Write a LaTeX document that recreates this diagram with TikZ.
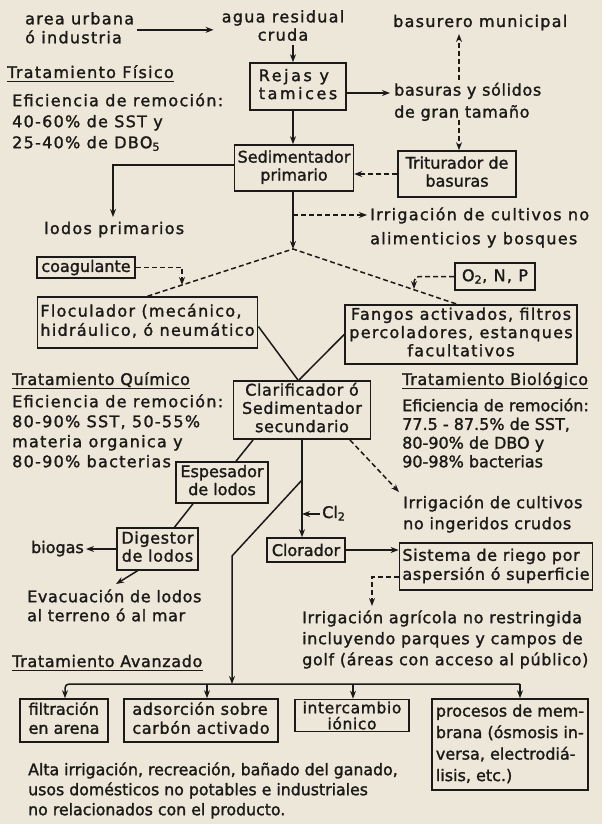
\documentclass[tikz,border=0pt]{standalone}
\usepackage{fontspec}
\setmainfont{DejaVu Sans}
\newfontfamily\fw[LetterSpace=8,FakeBold=1.5]{DejaVu Sans}
\newfontfamily\fm[LetterSpace=4,FakeBold=1.5]{DejaVu Sans}
\newfontfamily\fn[FakeBold=1.5]{DejaVu Sans}
\newfontfamily\fx[LetterSpace=16,FakeBold=1.5]{DejaVu Sans}
\newfontfamily\fc[FakeStretch=0.985,FakeBold=1.5]{DejaVu Sans}
\usetikzlibrary{arrows.meta}
\definecolor{paper}{RGB}{236,231,216}
\definecolor{ink}{RGB}{28,26,24}
\newcommand\szA{\fontsize{16}{20}\selectfont}
\newcommand\szB{\fontsize{16}{18}\selectfont}
\tikzset{
  every node/.style={inner sep=0pt, text=ink},
  txt/.style={anchor=north west, align=left},
  box/.style={draw=ink, line width=1.6pt, inner xsep=3pt, inner ysep=2pt},
  ln/.style={draw=ink, line width=1.5pt},
  arr/.style={ln, -{Stealth[length=8pt,width=6pt]}},
  dsh/.style={dash pattern=on 5pt off 3pt},
  uline/.style={draw=ink, line width=1.3pt}
}
\begin{document}
\begin{tikzpicture}[x=1pt,y=-1pt]
\fill[paper] (0,0) rectangle (602,824);
\useasboundingbox (0,0) rectangle (602,824);

% ---------- top ----------
\node[txt, font=\fw\fontsize{16}{17}\selectfont] (area) at (25,12) {\strut area urbana\\ó industria};
\node[anchor=north, align=center, font=\fw\fontsize{16}{17}\selectfont] (agua) at (283,10) {\strut agua residual\\cruda};
\draw[arr] ([xshift=3pt,yshift=-2pt]area.east) -- ([xshift=-8pt,yshift=-2pt]area.east -| agua.west);

\node[box, minimum width=96pt, minimum height=47pt, align=left, font=\fx\szB] (rejas) at (298,86.5) {\strut Rejas y\\\strut tamices};
\coordinate (c0) at (293,45);
\draw[arr] (c0) -- (c0 |- rejas.north);

\node[box, minimum width=116pt, minimum height=46pt, align=center, font=\fn\szB] (sed1) at (294,168) {\strut Sedimentador\\\strut primario};
\node[box, minimum width=118pt, minimum height=46pt, align=center, font=\fn\szB] (trit) at (457,174) {\strut Triturador de\\\strut basuras};

\node[txt, font=\fm\fontsize{16}{22}\selectfont] (bas) at (394,80) {\strut basuras y sólidos\\de gran tamaño};
\node[anchor=west, font=\fw\szA] (bmun) at (393,23) {\strut basurero municipal};

\coordinate (basin) at (390,93);
\draw[arr] (rejas.east |- basin) -- (basin);
\coordinate (bup) at (459,80);
\coordinate (btop) at (459,34);
\draw[arr,dsh] (bup) -- (btop);
\coordinate (bdn) at (459,120);
\draw[arr,dsh] (bdn) -- (bdn |- trit.north);
\draw[arr,dsh] (trit.west) -- (trit.west -| sed1.east);
\draw[arr] (rejas.south -| c0) -- (sed1.north -| c0);

% ---------- fisico ----------
\node[anchor=west, font=\fw\szA] (hF) at (7,74) {\strut Tratamiento Físico};
\draw[uline] ([yshift=2.5pt]hF.south west) -- ([yshift=2.5pt]hF.south east);
\node[txt, font=\fw\fontsize{16}{21}\selectfont] (effF) at (12,91.3) {\strut Eficiencia de remoción:\\40-60\% de SST y\\25-40\% de DBO\textsubscript{5}};

\coordinate (lp) at (113,217);
\draw[arr] ([yshift=3pt]sed1.west) -| (lp);
\node[anchor=west, font=\fw\szA] (lodos) at (44,230) {\strut lodos primarios};

\coordinate (J) at (293,249);
\draw[arr] (sed1.south -| J) -- (J);
\coordinate (Ja) at (293,215);
\coordinate (Jb) at (367,215);
\draw[arr,dsh] (Ja) -- (Jb);
\node[txt, font=\fw\fontsize{16}{24}\selectfont] (irr1) at (370,203.2) {\strut Irrigación de cultivos no\\alimenticios y bosques};

% ---------- floculador / fangos ----------
\node[box, minimum width=211pt, minimum height=51pt, align=left, font=\fw\szB] (floc) at (147.5,322.5) {\strut Floculador (mecánico,\\\strut hidráulico, ó neumático};
\node[box, minimum width=232pt, minimum height=59pt, align=center, font=\fw\fontsize{16}{17}\selectfont] (fang) at (461,334.5) {\strut Fangos activados, filtros\\\strut percoladores, estanques\\\strut facultativos};
\node[box, minimum width=98pt, minimum height=21pt, inner ysep=0pt, font=\fn\szB] (coag) at (86,267.5) {coagulante};
\node[box, minimum width=80pt, minimum height=27pt, inner ysep=0pt, font=\fw\szB] (otwo) at (495,276.5) {O\textsubscript{2}, N, P};

\draw[ln,dsh] (floc.north) -- (J) -- ([xshift=-4pt]fang.north);
\coordinate (cg) at (182,285);
\draw[arr,dsh] (coag.east) -| (cg);
\coordinate (og) at (414,289);
\draw[arr,dsh,rounded corners=5pt] (otwo.west) -| (og);

% ---------- clarificador ----------
\node[box, minimum width=137pt, minimum height=56pt, align=center, font=\fm\fontsize{16}{17}\selectfont] (clar) at (302,410) {\strut Clarificador ó\\\strut Sedimentador\\\strut secundario};
\draw[ln] ([yshift=-4pt]floc.east) -- ([xshift=-4pt]clar.north);
\draw[ln] (fang.west) -- ([xshift=-3pt]clar.north);

\node[anchor=west, font=\fm\szA] (hQ) at (12,381) {\strut Tratamiento Químico};
\draw[uline] ([yshift=2.5pt]hQ.south west) -- ([yshift=2.5pt]hQ.south east);
\node[txt, font=\fw\szA] (effQ) at (12,393) {\strut Eficiencia de remoción:\\80-90\% SST, 50-55\%\\materia organica y\\80-90\% bacterias};

\node[anchor=west, font=\fm\szA] (hB) at (402,381) {\strut Tratamiento Biológico};
\draw[uline] ([yshift=2.5pt]hB.south west) -- ([yshift=2.5pt]hB.south east);
\node[txt, font=\fn\fontsize{16}{18.7}\selectfont] (effB) at (402,397.9) {\strut Eficiencia de remoción:\\77.5 - 87.5\% de SST,\\80-90\% de DBO y\\90-98\% bacterias};

% ---------- lodos ----------
\node[box, minimum width=92pt, minimum height=41pt, align=center, font=\fn\szB] (esp) at (222,482.5) {\strut Espesador\\\strut de lodos};
\node[box, minimum width=81pt, minimum height=42pt, align=center, font=\fm\szB] (dig) at (157.5,549) {\strut Digestor\\\strut de lodos};
\draw[ln] ([xshift=-49pt]clar.south) -- ([xshift=14pt]esp.north);
\draw[ln] ([xshift=-29pt]esp.south) -- ([xshift=17pt]dig.north);

\node[anchor=east, inner xsep=2pt, font=\fn\szA] (bio) at (86,549) {\strut biogas};
\draw[arr] (dig.west) -- (bio.east);
\coordinate (ev) at (116,584);
\draw[arr] ([xshift=-20pt]dig.south) -- (ev);
\node[txt, font=\fm\fontsize{16}{19}\selectfont] (evac) at (27,588.7) {\strut Evacuación de lodos\\al terreno ó al mar};

\node[anchor=west, font=\fm\szA] (hA) at (12,663) {\strut Tratamiento Avanzado};
\draw[uline] ([yshift=2.5pt]hA.south west) -- ([yshift=2.5pt]hA.south east);

% ---------- cloracion ----------
\node[box, minimum width=78pt, minimum height=24pt, inner ysep=0pt, font=\fn\szB] (clor) at (306,550) {Clorador};
\draw[arr] (clar.south) -- (clar.south |- clor.north);
\node[anchor=west, inner xsep=2pt, font=\fn\szA] (cl) at (320,514) {\strut Cl\textsubscript{2}};
\draw[arr] (cl.west) -- (cl.west -| clar.south);

\coordinate (d1) at (302,480);
\coordinate (d2) at (232,556);
\coordinate (bus) at (232,684);
\draw[arr] (d1) -- (d2) -- (bus);

\coordinate (ir2) at (399,492);
\draw[arr,dsh] ([xshift=48pt]clar.south) -- (ir2);
\node[txt, font=\fm\fontsize{16}{21}\selectfont] (irr2) at (403,493.3) {\strut Irrigación de cultivos\\no ingeridos crudos};

\node[box, minimum width=186pt, minimum height=47pt, align=left, font=\fm\fontsize{16}{19}\selectfont] (sist) at (496,566.5) {\strut Sistema de riego por\\\strut aspersión ó superficie};
\draw[arr] (clor.east) -- (clor.east -| sist.west);
\coordinate (ia) at (372,606);
\draw[arr,dsh] ([yshift=-10.5pt]sist.west) -| (ia);
\node[txt, font=\fm\fontsize{16}{21}\selectfont] (irr3) at (302,608.3) {\strut Irrigación agrícola no restringida\\incluyendo parques y campos de\\golf (áreas con acceso al público)};

% ---------- avanzado ----------
\node[box, minimum width=88pt, minimum height=43pt, align=left, font=\fn\fontsize{16}{19}\selectfont] (filt) at (64,720.5) {\strut filtración\\\strut en arena};
\node[box, minimum width=154pt, minimum height=43pt, align=left, font=\fm\fontsize{16}{19}\selectfont] (ads) at (201,720.5) {\strut adsorción sobre\\\strut carbón activado};
\node[box, minimum width=114pt, minimum height=32pt, inner ysep=0pt, align=center, font=\fm\fontsize{15.5}{16}\selectfont] (inter) at (352,715.5) {intercambio\\iónico};
\node[box, minimum width=156pt, minimum height=91pt, align=left, font=\fn\fontsize{16}{21.5}\selectfont] (proc) at (510,744.5) {\strut procesos de mem-\\\strut brana (ósmosis in-\\\strut versa, electrodiá-\\\strut lisis, etc.)};

\coordinate (bL) at (65,684);
\coordinate (bR) at (520,684);
\coordinate (b2) at (207,684);
\coordinate (b3) at (353,684);
\draw[arr, rounded corners=4pt] (bR) -- (bL) -- (bL |- filt.north);
\draw[arr] (b2) -- (b2 |- ads.north);
\draw[arr] (b3) -- (b3 |- inter.north);
\draw[arr] (bR) -- (bR |- proc.north);

\node[txt, font=\fc\fontsize{16}{20}\selectfont] (alta) at (28,761) {\strut Alta irrigación, recreación, bañado del ganado,\\usos domésticos no potables e industriales\\no relacionados con el producto.};
\end{tikzpicture}
\end{document}
